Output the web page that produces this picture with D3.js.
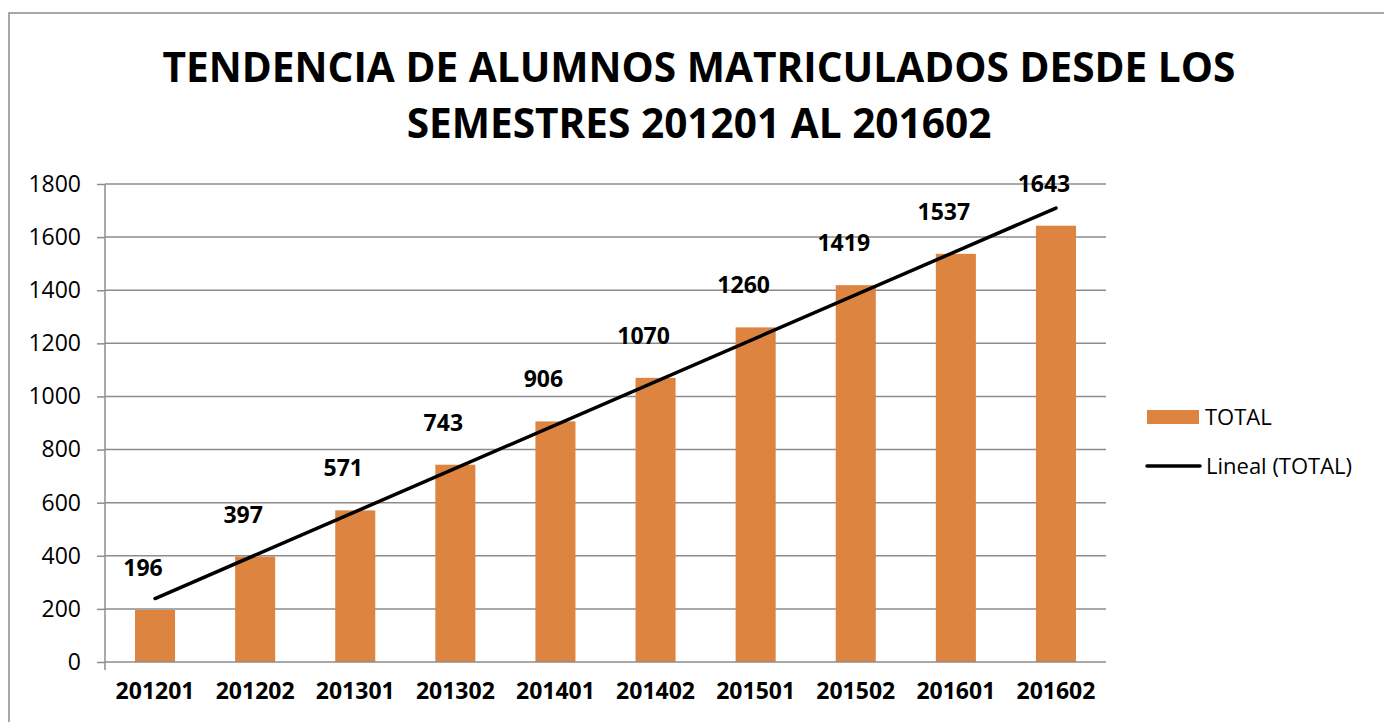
<!DOCTYPE html>
<html>
<head>
<meta charset="utf-8">
<script src="https://cdn.jsdelivr.net/npm/d3@7"></script>
<style>
  html, body { margin: 0; padding: 0; background: #fff; }
  svg { display: block; font-family: "Open Sans", "Noto Sans", sans-serif; }
  .grid line { stroke: #8c8c8c; stroke-width: 1.5px; }
  .axis path, .axis line { stroke: #8c8c8c; stroke-width: 1.5px; }
  .axis text { fill: #000; font-family: "Open Sans", "Noto Sans", sans-serif; }
</style>
</head>
<body>
<svg id="chart" width="1384" height="722"></svg>
<script>
/* ---------- data ---------- */
const titleLines = ["TENDENCIA DE ALUMNOS MATRICULADOS DESDE LOS", "SEMESTRES 201201 AL 201602"];
const semesters = ["201201", "201202", "201301", "201302", "201401", "201402", "201501", "201502", "201601", "201602"];
const totals = [196, 397, 571, 743, 906, 1070, 1260, 1419, 1537, 1643];
const yTicks = [0, 200, 400, 600, 800, 1000, 1200, 1400, 1600, 1800];
const legendLabels = ["TOTAL", "Lineal (TOTAL)"];

const barColor = "#dc8440";

/* ---------- layout ---------- */
const svg = d3.select("#chart");
const plot = { left: 105, right: 1106, top: 184, bottom: 662 };

// outer chart frame (right/bottom edges fall outside the picture)
svg.append("rect")
  .attr("x", 9).attr("y", 13).attr("width", 1400).attr("height", 740)
  .style("fill", "none").style("stroke", "#8c8c8c").style("stroke-width", 1.5);

/* ---------- title ---------- */
svg.append("text")
  .attr("x", 699).attr("y", 82).attr("text-anchor", "middle")
  .style("font-size", "40.6px").style("font-weight", 700)
  .text(titleLines[0]);
svg.append("text")
  .attr("x", 699).attr("y", 138).attr("text-anchor", "middle")
  .style("font-size", "40.6px").style("font-weight", 700)
  .text(titleLines[1]);

/* ---------- scales ---------- */
const x = d3.scaleBand().domain(semesters).range([plot.left, plot.right]).paddingInner(0.6).paddingOuter(0.3);
const y = d3.scaleLinear().domain([0, 1800]).range([plot.bottom, plot.top]);

/* ---------- gridlines ---------- */
svg.append("g").attr("class", "grid")
  .selectAll("line").data(yTicks.filter(d => d > 0)).join("line")
  .attr("x1", plot.left).attr("x2", plot.right)
  .attr("y1", d => y(d)).attr("y2", d => y(d));

/* ---------- axes ---------- */
const yAxis = d3.axisLeft(y).tickValues(yTicks).tickFormat(d3.format("d"))
  .tickSize(8).tickSizeOuter(0).tickPadding(16);
const yG = svg.append("g").attr("class", "axis").attr("transform", `translate(${plot.left},0)`).call(yAxis);
yG.attr("font-family", null).attr("font-size", null);
yG.select(".domain").remove();
yG.selectAll("text").style("font-size", "23px");
svg.append("line")
  .attr("x1", plot.left).attr("x2", plot.left).attr("y1", plot.top).attr("y2", plot.bottom + 8)
  .style("stroke", "#8c8c8c").style("stroke-width", 1.5);

const xAxis = d3.axisBottom(x).tickSize(0).tickSizeOuter(0).tickPadding(21);
const xG = svg.append("g").attr("class", "axis").attr("transform", `translate(0,${plot.bottom})`).call(xAxis);
xG.attr("font-family", null).attr("font-size", null);
xG.select(".domain").remove();
xG.selectAll("text").style("font-size", "23px").style("font-weight", 700);

/* ---------- bars ---------- */
svg.append("g").selectAll("rect").data(totals).join("rect")
  .attr("x", (d, i) => x(semesters[i]))
  .attr("width", x.bandwidth())
  .attr("y", d => y(d))
  .attr("height", d => y(0) - y(d))
  .style("fill", barColor);

// baseline drawn over the bars
svg.append("line")
  .attr("x1", plot.left).attr("x2", plot.right).attr("y1", y(0)).attr("y2", y(0))
  .style("stroke", "#8c8c8c").style("stroke-width", 1.5);

/* ---------- data labels ---------- */
svg.append("g").selectAll("text").data(totals).join("text")
  .attr("x", (d, i) => x(semesters[i]) + x.bandwidth() / 2 - 12)
  .attr("y", d => y(d) - 34)
  .attr("text-anchor", "middle")
  .style("font-size", "23px").style("font-weight", 700)
  .text(d => d);

/* ---------- linear trend (least squares over category index) ---------- */
const idx = totals.map((d, i) => i + 1);
const mx = d3.mean(idx), my = d3.mean(totals);
const slope = d3.sum(idx, (t, i) => (t - mx) * (totals[i] - my)) / d3.sum(idx, t => (t - mx) ** 2);
const intercept = my - slope * mx;
const trend = [idx[0], idx[idx.length - 1]].map(t => ({ cat: semesters[t - 1], v: intercept + slope * t }));

svg.append("path").datum(trend)
  .attr("d", d3.line().x(d => x(d.cat) + x.bandwidth() / 2).y(d => y(d.v)))
  .style("fill", "none").style("stroke", "#000").style("stroke-width", 3.5).style("stroke-linecap", "round");

/* ---------- legend ---------- */
const legend = svg.append("g").attr("transform", "translate(1147,0)");
legend.append("rect").attr("x", 0).attr("y", 410).attr("width", 52).attr("height", 14).style("fill", barColor);
legend.append("text").attr("x", 58).attr("y", 425).style("font-size", "22px").text(legendLabels[0]);
legend.append("line").attr("x1", 0).attr("x2", 53).attr("y1", 466).attr("y2", 466)
  .style("stroke", "#000").style("stroke-width", 3.5).style("stroke-linecap", "round");
legend.append("text").attr("x", 59).attr("y", 474).style("font-size", "22px").text(legendLabels[1]);
</script>
</body>
</html>
